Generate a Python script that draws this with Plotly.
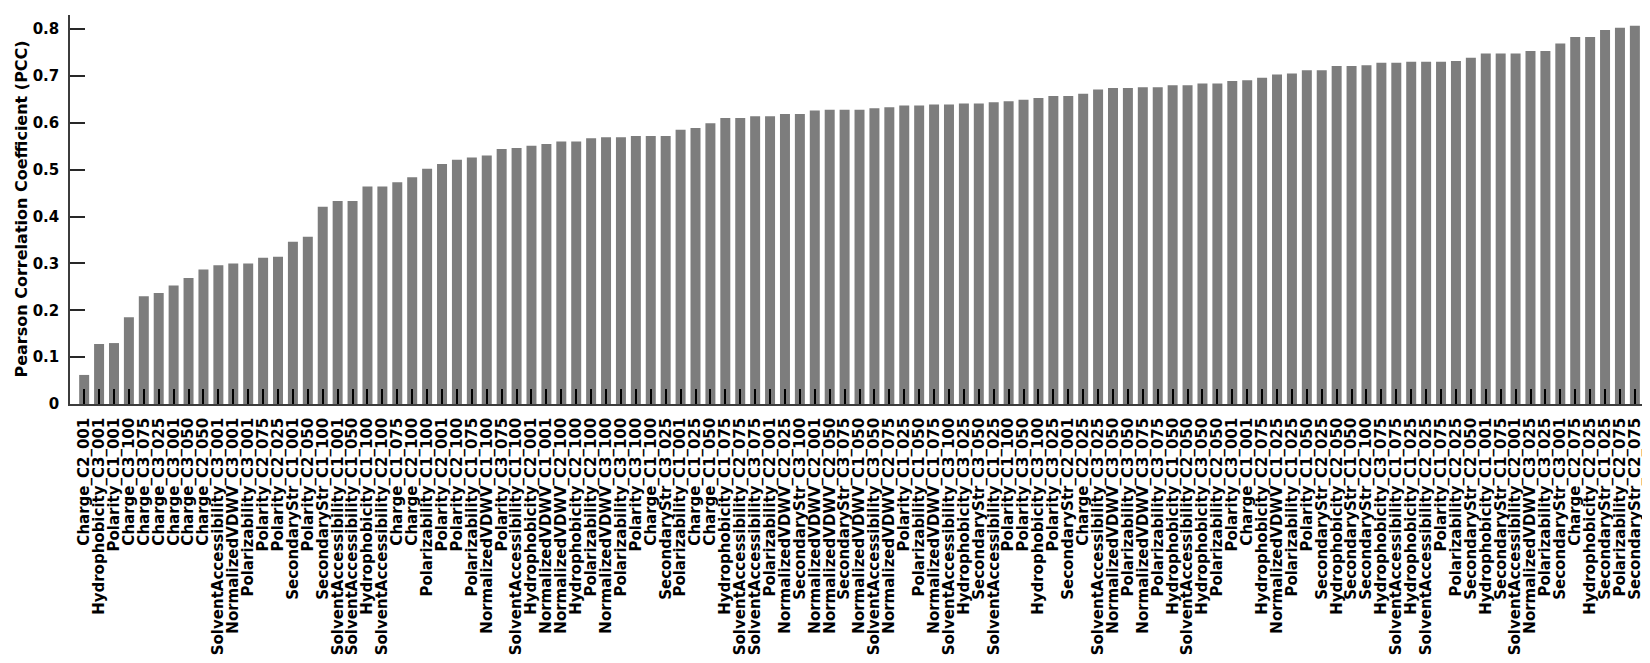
import plotly.graph_objects as go

# feature names, in the order they appear (sorted by PCC)
features = [
    "Charge_C2_001", "Hydrophobicity_C3_001", "Polarity_C1_001", "Charge_C3_100",
    "Charge_C3_075", "Charge_C3_025", "Charge_C3_001", "Charge_C3_050",
    "Charge_C2_050", "SolventAccessibility_C3_001", "NormalizedVDWV_C3_001",
    "Polarizability_C3_001", "Polarity_C2_075", "Polarity_C2_025",
    "SecondaryStr_C1_001", "Polarity_C2_050", "SecondaryStr_C1_100",
    "SolventAccessibility_C1_001", "SolventAccessibility_C1_050",
    "Hydrophobicity_C1_100", "SolventAccessibility_C2_100", "Charge_C1_075",
    "Charge_C2_100", "Polarizability_C1_100", "Polarity_C2_001", "Polarity_C2_100",
    "Polarizability_C1_075", "NormalizedVDWV_C1_100", "Polarity_C3_075",
    "SolventAccessibility_C1_100", "Hydrophobicity_C2_001", "NormalizedVDWV_C1_001",
    "NormalizedVDWV_C2_100", "Hydrophobicity_C2_100", "Polarizability_C2_100",
    "NormalizedVDWV_C3_100", "Polarizability_C3_100", "Polarity_C3_100",
    "Charge_C1_100", "SecondaryStr_C3_025", "Polarizability_C1_001",
    "Charge_C1_025", "Charge_C1_050", "Hydrophobicity_C1_075",
    "SolventAccessibility_C2_075", "SolventAccessibility_C3_075",
    "Polarizability_C2_001", "NormalizedVDWV_C2_025", "SecondaryStr_C3_100",
    "NormalizedVDWV_C2_001", "NormalizedVDWV_C2_050", "SecondaryStr_C3_075",
    "NormalizedVDWV_C1_050", "SolventAccessibility_C3_050", "NormalizedVDWV_C2_075",
    "Polarity_C1_025", "Polarizability_C1_050", "NormalizedVDWV_C1_075",
    "SolventAccessibility_C3_100", "Hydrophobicity_C3_025", "SecondaryStr_C3_050",
    "SolventAccessibility_C1_025", "Polarity_C1_100", "Polarity_C3_050",
    "Hydrophobicity_C3_100", "Polarity_C3_025", "SecondaryStr_C2_001",
    "Charge_C2_025", "SolventAccessibility_C3_025", "NormalizedVDWV_C3_050",
    "Polarizability_C3_050", "NormalizedVDWV_C3_075", "Polarizability_C3_075",
    "Hydrophobicity_C1_050", "SolventAccessibility_C2_050", "Hydrophobicity_C3_050",
    "Polarizability_C2_050", "Polarity_C3_001", "Charge_C1_001",
    "Hydrophobicity_C2_075", "NormalizedVDWV_C1_025", "Polarizability_C1_025",
    "Polarity_C1_050", "SecondaryStr_C2_025", "Hydrophobicity_C2_050",
    "SecondaryStr_C1_050", "SecondaryStr_C2_100", "Hydrophobicity_C3_075",
    "SolventAccessibility_C1_075", "Hydrophobicity_C1_025",
    "SolventAccessibility_C2_025", "Polarity_C1_075", "Polarizability_C2_025",
    "SecondaryStr_C2_050", "Hydrophobicity_C1_001", "SecondaryStr_C1_075",
    "SolventAccessibility_C2_001", "NormalizedVDWV_C3_025", "Polarizability_C3_025",
    "SecondaryStr_C3_001", "Charge_C2_075", "Hydrophobicity_C2_025",
    "SecondaryStr_C1_025", "Polarizability_C2_075", "SecondaryStr_C2_075",
]

# PCC values
pcc = [
    0.062, 0.128, 0.130, 0.185, 0.230, 0.237, 0.253, 0.269, 0.287, 0.296,
    0.300, 0.300, 0.312, 0.314, 0.346, 0.357, 0.421, 0.433, 0.433, 0.464,
    0.464, 0.473, 0.484, 0.502, 0.512, 0.521, 0.526, 0.530, 0.544, 0.546,
    0.551, 0.555, 0.560, 0.560, 0.567, 0.569, 0.569, 0.572, 0.572, 0.572,
    0.585, 0.589, 0.599, 0.610, 0.610, 0.614, 0.614, 0.619, 0.619, 0.626,
    0.628, 0.628, 0.628, 0.631, 0.633, 0.637, 0.637, 0.639, 0.639, 0.641,
    0.641, 0.644, 0.646, 0.649, 0.653, 0.657, 0.657, 0.662, 0.671, 0.674,
    0.674, 0.676, 0.676, 0.680, 0.680, 0.684, 0.684, 0.689, 0.691, 0.696,
    0.703, 0.705, 0.712, 0.712, 0.721, 0.721, 0.723, 0.728, 0.728, 0.730,
    0.730, 0.730, 0.732, 0.739, 0.748, 0.748, 0.748, 0.753, 0.753, 0.769,
    0.783, 0.783, 0.798, 0.803, 0.807,
]

ytick_vals = [0, 0.1, 0.2, 0.3, 0.4, 0.5, 0.6, 0.7, 0.8]
ytick_text = ["0", "0.1", "0.2", "0.3", "0.4", "0.5", "0.6", "0.7", "0.8"]

fig = go.Figure()

fig.add_trace(go.Bar(
    x=features,
    y=pcc,
    marker_color='rgb(125,125,125)',
    marker_line_width=0,
    showlegend=False))

fig.update_layout(
    template='plotly_white',
    width=1650,
    height=663,
    margin=dict(l=62, r=3, t=7, b=267),
    plot_bgcolor='white',
    paper_bgcolor='white',
    bargap=0.33,
    font=dict(family='DejaVu Sans', color='black'),
    xaxis=dict(
        type='category',
        range=[-0.95, len(features) + 0.35],
        tickmode='array',
        tickvals=features,
        ticktext=features,
        showgrid=False,
        zeroline=False,
        showline=True,
        linecolor='rgb(60,60,60)',
        linewidth=1.5,
        layer='above traces',
        ticks='inside',
        ticklen=15,
        tickwidth=1.5,
        tickcolor='black',
        tickangle=-90,
        ticklabelstandoff=6,
        tickfont=dict(family='DejaVu Sans', size=15, color='black', weight='bold'),
        automargin=False,
    ),
    yaxis=dict(
        range=[0, 0.83],
        tickvals=ytick_vals,
        ticktext=ytick_text,
        showgrid=False,
        zeroline=False,
        showline=True,
        linecolor='rgb(60,60,60)',
        linewidth=1.5,
        layer='above traces',
        ticks='inside',
        ticklen=15,
        tickwidth=1.5,
        tickcolor='rgb(40,40,40)',
        ticklabelstandoff=6,
        tickfont=dict(family='DejaVu Sans', size=15, color='black', weight='bold'),
        automargin=False,
    ),
)

fig.add_annotation(
    text='Pearson Correlation Coefficient (PCC)',
    xref='paper', yref='paper',
    x=0, y=0.5,
    xanchor='center', yanchor='middle',
    xshift=-49,
    textangle=-90,
    showarrow=False,
    font=dict(family='DejaVu Sans', size=16, color='black', weight='bold'),
)

fig.write_html("out.html")
